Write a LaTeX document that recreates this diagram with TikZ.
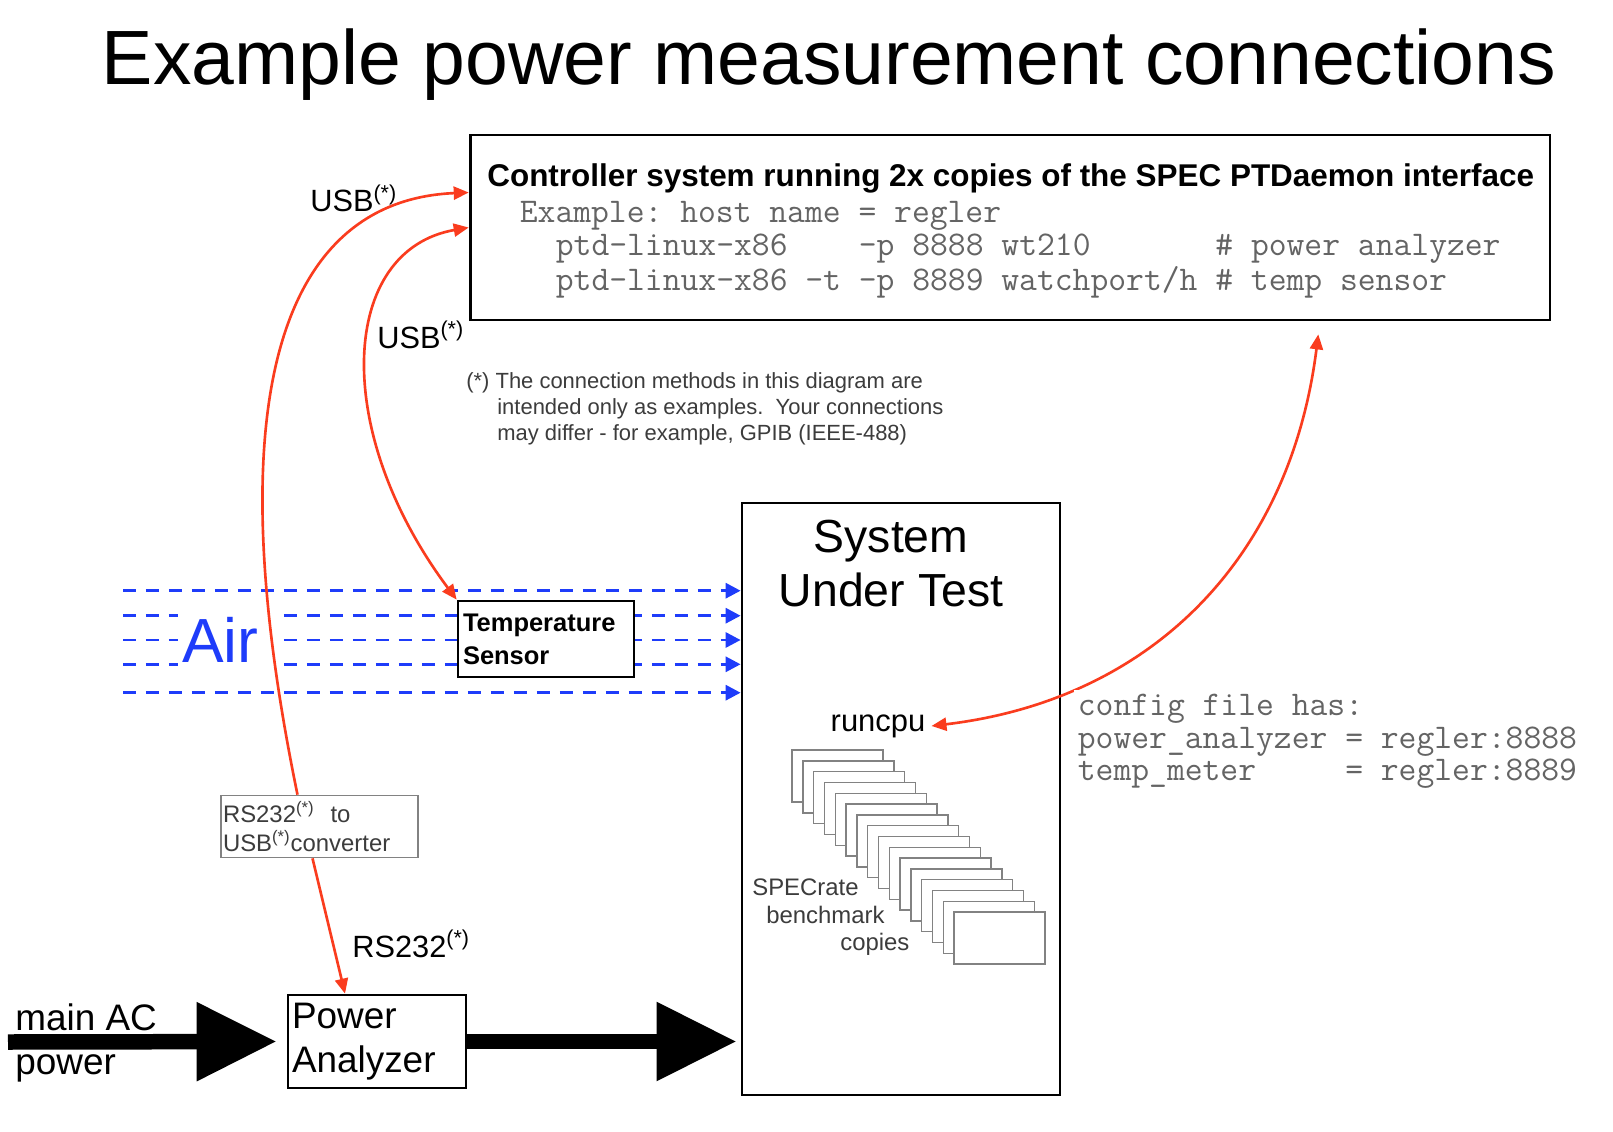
\documentclass[tikz,border=0pt]{standalone}
\usepackage{fontspec}
\setmainfont{Liberation Sans}
\usetikzlibrary{positioning,calc}
\usetikzlibrary{arrows.meta}
\definecolor{WireRed}{RGB}{250,60,30}
\definecolor{AirBlue}{RGB}{30,60,250}
\definecolor{CodeGray}{RGB}{100,100,100}
\definecolor{NoteGray}{RGB}{60,60,60}
\definecolor{FrameGray}{RGB}{130,130,130}
\newcommand{\fnmark}{\textsuperscript{(*)}}
\tikzset{
	box/.style={draw=black,line width=1.6pt,fill=white,inner sep=0pt},
	thinbox/.style={draw=FrameGray,line width=0.8pt,fill=white},
	wire/.style={draw=WireRed,line width=1.5pt,>={Triangle[length=0.3cm,width=0.26cm]}},
	airflow/.style={draw=AirBlue,line width=1.7pt,dash pattern=on 0.26cm off 0.2cm,>={Triangle[length=0.3cm,width=0.3cm]}},
	mains/.style={draw=black,line width=0.31cm,>={Triangle[length=1.6cm,width=1.5cm]},->},
	code/.style={font=\ttfamily\frenchspacing\fontsize{19.7}{18.7}\selectfont,text=CodeGray,inner sep=0pt,anchor=west},
	lbl/.style={font=\fontsize{17.5}{21}\selectfont,inner sep=0pt,anchor=base west},
}

\begin{document}
\begin{tikzpicture}[x=0.02cm,y=-0.02cm]
	\fill[white] (0,0) rectangle (1613,1132);
	\useasboundingbox (0,0) rectangle (1613,1132);
	% title
	\node[anchor=base,inner sep=0pt,font=\fontsize{43.8}{50}\selectfont] (title) at (829,85) {Example power measurement connections};
	% controller system
	\node[box,minimum width=21.6cm,minimum height=3.7cm] (ctrl) at (1010,227.5) {};
	\node[anchor=west,inner sep=0pt,font=\bfseries\fontsize{17.9}{21}\selectfont] (ctrlhead) at (487,178) {Controller system running 2x copies of the SPEC PTDaemon interface};
	\node[code] (ex1) at (519.5,216) {Example: host name = regler};
	\node[code] (ex2) at (555.5,249) {ptd-linux-x86\ \ \ \ -p 8888 wt210\ \ \ \ \ \ \ \# power analyzer};
	\node[code] (ex3) at (555.5,282) {ptd-linux-x86 -t -p 8889 watchport/h \# temp sensor};
	\node[anchor=north west,inner sep=0pt,align=left,text=NoteGray,font=\fontsize{12.5}{14.8}\selectfont] (note) at (466,372) {(*) The connection methods in this diagram are\\\hspace*{0.62cm}intended only as examples.\ \ Your connections\\\hspace*{0.62cm}may differ - for example, GPIB (IEEE-488)};
	% system under test
	\node[box,minimum width=6.36cm,minimum height=11.84cm] (sut) at (901,799) {};
	\node[anchor=north,inner sep=0pt,align=center,font=\fontsize{26.4}{30.7}\selectfont] (suttitle) at (891,520) {System\\Under Test};
	\node[font=\fontsize{17.6}{21}\selectfont] (runcpu) at (878,726) {runcpu};
	\foreach \i in {0,...,15}
	\draw[thinbox] (792+10.8*\i,750+10.8*\i) rectangle +(91,52);
	\foreach \t/\x/\y in {SPECrate/752/887,benchmark/766/915,copies/840/944}
	\node[anchor=west,inner sep=0pt,text=NoteGray,font=\fontsize{13.6}{16}\selectfont] (\t) at (\x,\y) {\t};
	% air flow
	\foreach \y [count=\i] in {590.7,615.7,640,664.3,692.7} {
		\coordinate (air\i) at (123,\y);
		\draw[airflow,->] (air\i) -- (air\i -| sut.west);
	}
	\node[fill=white,inner xsep=0.08cm,minimum height=1.4cm,text width=1.82cm,align=left,text=AirBlue,font=\fontsize{35.5}{40}\selectfont] (airlbl) at (227.5,640) {Air};
	\node[box,minimum width=3.52cm,minimum height=1.52cm,text width=3.32cm,inner xsep=0.1cm,align=left,font=\bfseries\fontsize{14.5}{18.7}\selectfont] (ts) at (546,639) {Temperature\\Sensor};
	% power path
	\node[thinbox,minimum width=3.94cm,minimum height=1.22cm,text width=3.86cm,inner xsep=0.04cm,align=left,text=NoteGray,font=\fontsize{13.6}{16.5}\selectfont] (conv) at (319.5,826.5) {RS232\fnmark\ \ to\\USB\fnmark{}converter};
	\node[box,minimum width=3.56cm,minimum height=1.86cm,text width=3.4cm,inner xsep=0.08cm,align=left,font=\fontsize{21}{25}\selectfont] (pa) at (377,1041.5) {Power\\Analyzer};
	\coordinate (acin) at (8,1042);
	\draw[mains,shorten >=0.2cm] (acin) -- (pa.west);
	\node[anchor=west,inner sep=0pt,align=left,font=\fontsize{21}{25.5}\selectfont] (mainac) at (15,1043) {main AC\\power};
	\draw[mains,shorten >=0.08cm] (pa.east) -- (pa.east -| sut.west);
	% connections
	\draw[wire,->] ($(conv.north)+(-22,0)$) .. controls (212,380) and (290,200) .. ($(ctrl.west)+(0,-35)$);
	\draw[wire,->] ($(conv.south)+(-7,0)$) -- ($(pa.north)+(-32,0)$);
	\draw[wire,<->] (ctrl.west) .. controls (340,250) and (330,430) .. (ts.north west);
	\draw[wire,<->] ($(ctrl.south east)+(-233,13)$) .. controls (1290,560) and (1150,700) .. (runcpu.east);
	\node[code,align=left,fill=white,inner sep=2pt,anchor=north west] (cfg) at (1074,690) {config file has:\\power\_analyzer = regler:8888\\temp\_meter\ \ \ \ \ = regler:8889};
	\node[lbl] (usbA) at (310,212) {USB\fnmark};
	\node[lbl] (usbB) at (377,348) {USB\fnmark};
	\node[lbl] (rs232) at (352,957) {RS232\fnmark};
\end{tikzpicture}
\end{document}
